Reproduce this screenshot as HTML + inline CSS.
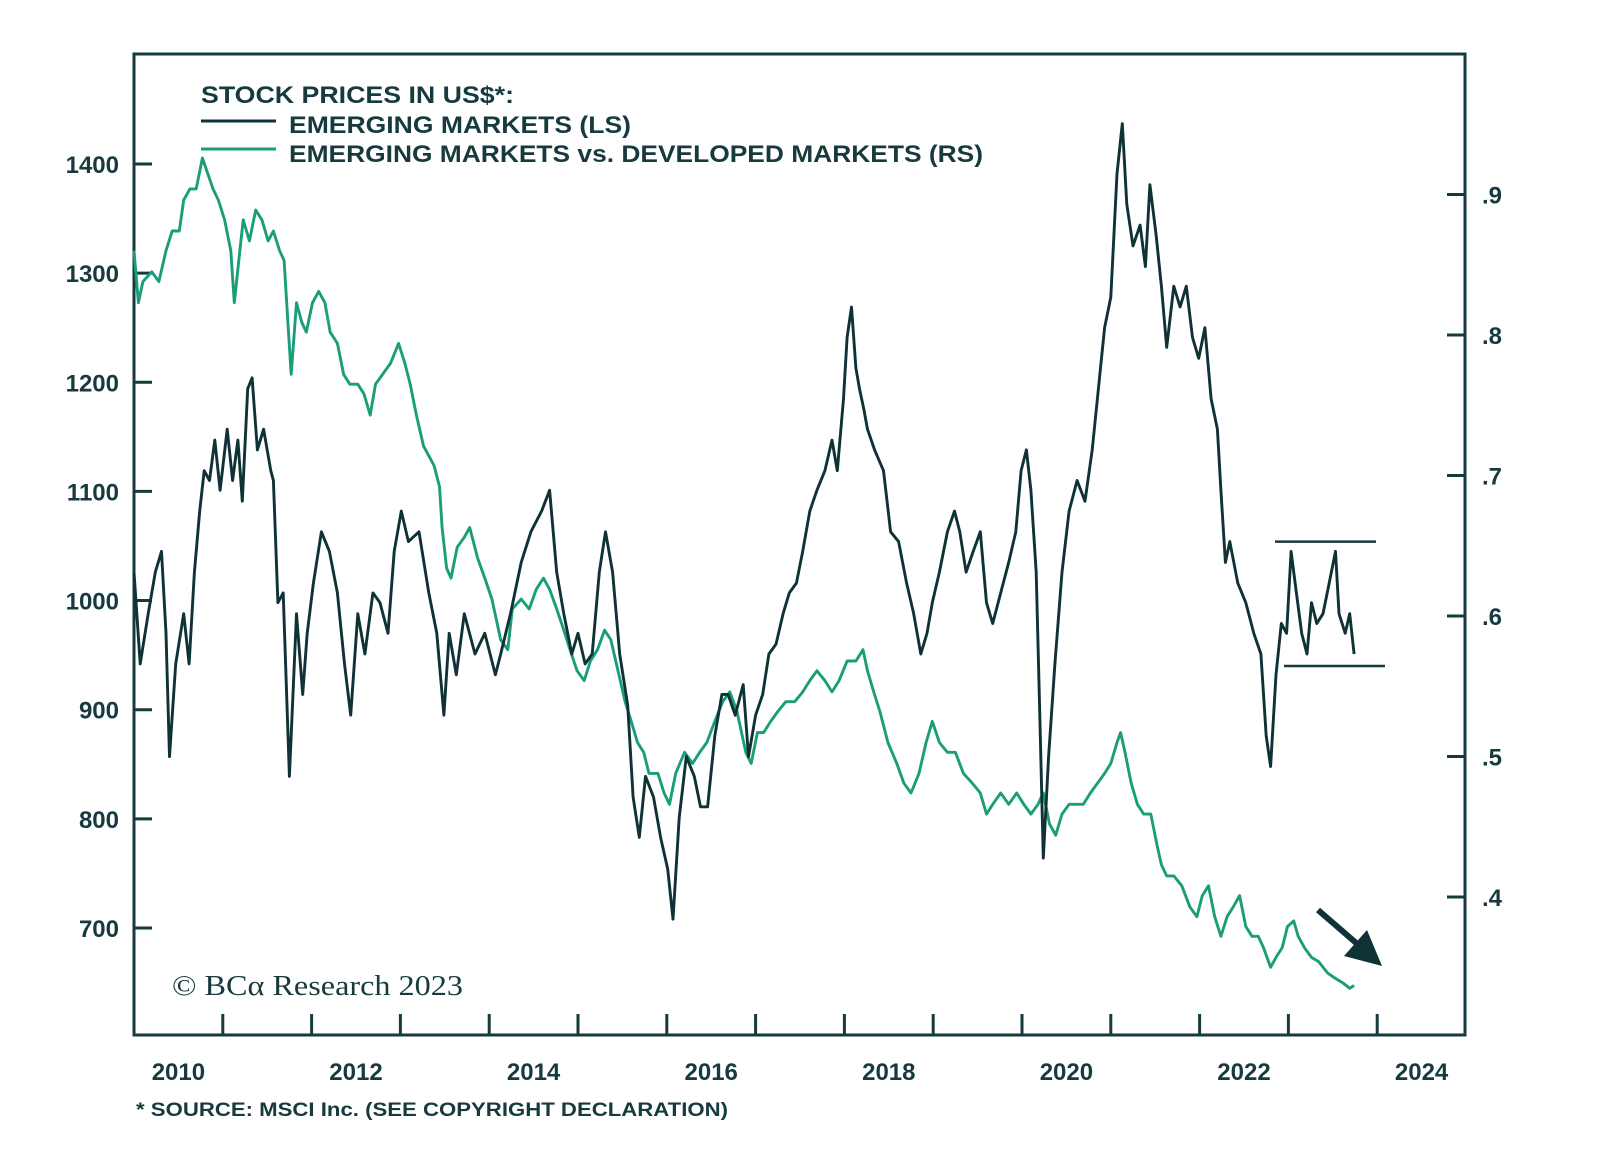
<!DOCTYPE html>
<html><head><meta charset="utf-8">
<style>
html,body{margin:0;padding:0;background:#fff;}
svg{display:block;}
text{font-family:"Liberation Sans",sans-serif;fill:#173a3e;}
</style></head>
<body>
<svg id="chart" width="1600" height="1154" viewBox="0 0 1600 1154" xmlns="http://www.w3.org/2000/svg">
  <rect x="134" y="54" width="1331" height="981" fill="none" stroke="#173a3e" stroke-width="3"/>
  <g id="axes"></g>
  <g id="series"></g>
  <g>
    <text x="201" y="103" font-size="24" font-weight="bold" textLength="313" lengthAdjust="spacingAndGlyphs">STOCK PRICES IN US$*:</text>
    <line x1="201" y1="121" x2="276" y2="121" stroke="#0f3236" stroke-width="3"/>
    <text x="289" y="133" font-size="24" font-weight="bold" textLength="342" lengthAdjust="spacingAndGlyphs">EMERGING MARKETS (LS)</text>
    <line x1="201" y1="149" x2="276" y2="149" stroke="#1a9e78" stroke-width="3"/>
    <text x="289" y="162" font-size="24" font-weight="bold" textLength="694" lengthAdjust="spacingAndGlyphs">EMERGING MARKETS vs. DEVELOPED MARKETS (RS)</text>
  </g>
  <text x="172" y="995" font-size="28" style="font-family:'Liberation Serif',serif" textLength="291" lengthAdjust="spacingAndGlyphs">© BCα Research 2023</text>
  <text x="136" y="1116" font-size="19" font-weight="bold" textLength="592" lengthAdjust="spacingAndGlyphs">* SOURCE: MSCI Inc. (SEE COPYRIGHT DECLARATION)</text>
  <g>
    <line x1="1318" y1="910" x2="1362" y2="948" stroke="#0f3236" stroke-width="6"/>
    <polygon points="1382,966 1344,956 1367,930" fill="#0f3236"/>
  </g>
</svg>
<script>
const years=[2010,2011,2012,2013,2014,2015,2016,2017,2018,2019,2020,2021,2022,2023,2024];
const xLabels=["2010","2012","2014","2016","2018","2020","2022","2024"];
const leftTicks=[700,800,900,1000,1100,1200,1300,1400];
const rightTicks=[0.4,0.5,0.6,0.7,0.8,0.9];
const rangeTop=1054, rangeBottom=940;
const emDates=[2010.00,2010.07,2010.16,2010.24,2010.31,2010.36,2010.40,2010.47,2010.56,2010.62,2010.68,2010.74,2010.79,2010.85,2010.91,2010.97,2011.05,2011.11,2011.17,2011.22,2011.28,2011.33,2011.39,2011.46,2011.54,2011.57,2011.62,2011.68,2011.75,2011.83,2011.90,2011.95,2012.02,2012.11,2012.20,2012.29,2012.37,2012.44,2012.52,2012.60,2012.69,2012.77,2012.86,2012.93,2013.01,2013.09,2013.21,2013.32,2013.41,2013.49,2013.55,2013.63,2013.72,2013.84,2013.95,2014.07,2014.13,2014.24,2014.36,2014.47,2014.59,2014.68,2014.76,2014.84,2014.93,2015.00,2015.08,2015.16,2015.24,2015.31,2015.39,2015.47,2015.56,2015.62,2015.69,2015.76,2015.85,2015.93,2016.01,2016.07,2016.14,2016.22,2016.31,2016.38,2016.46,2016.54,2016.62,2016.69,2016.77,2016.86,2016.92,2017.00,2017.08,2017.15,2017.23,2017.31,2017.38,2017.46,2017.53,2017.61,2017.69,2017.78,2017.86,2017.92,2017.99,2018.03,2018.08,2018.13,2018.17,2018.22,2018.26,2018.34,2018.44,2018.52,2018.61,2018.70,2018.78,2018.86,2018.93,2018.99,2019.07,2019.16,2019.24,2019.30,2019.37,2019.45,2019.53,2019.60,2019.67,2019.76,2019.85,2019.93,2019.99,2020.05,2020.10,2020.16,2020.20,2020.24,2020.30,2020.37,2020.45,2020.53,2020.62,2020.71,2020.79,2020.86,2020.93,2021.00,2021.07,2021.13,2021.18,2021.25,2021.33,2021.39,2021.44,2021.51,2021.57,2021.63,2021.71,2021.78,2021.85,2021.92,2021.99,2022.06,2022.13,2022.20,2022.24,2022.29,2022.34,2022.43,2022.52,2022.61,2022.69,2022.75,2022.80,2022.86,2022.92,2022.98,2023.03,2023.09,2023.15,2023.21,2023.26,2023.32,2023.39,2023.46,2023.53,2023.57,2023.64,2023.69,2023.74];
const emValues=[1026,942,988,1026,1045,970,857,942,988,942,1026,1082,1119,1110,1147,1101,1157,1110,1147,1091,1194,1204,1138,1157,1119,1110,998,1007,839,988,914,970,1016,1063,1045,1007,942,895,988,951,1007,998,970,1045,1082,1054,1063,1007,970,895,970,932,988,951,970,932,951,988,1035,1063,1082,1101,1026,988,951,970,942,951,1026,1063,1026,951,904,820,783,839,820,783,754,708,801,857,839,811,811,876,914,914,895,923,857,895,914,951,960,988,1007,1016,1045,1082,1101,1119,1147,1119,1185,1241,1269,1213,1194,1175,1157,1138,1119,1063,1054,1016,988,951,970,998,1026,1063,1082,1063,1026,1045,1063,998,979,1007,1035,1063,1119,1138,1101,1026,895,764,857,942,1026,1082,1110,1091,1138,1194,1250,1278,1391,1437,1363,1325,1344,1306,1381,1335,1288,1232,1288,1269,1288,1241,1222,1250,1185,1157,1101,1035,1054,1016,998,970,951,876,848,932,979,970,1045,1007,970,951,998,979,988,1016,1045,988,970,988,951];
const relDates=[2010.00,2010.05,2010.10,2010.20,2010.28,2010.36,2010.43,2010.51,2010.56,2010.63,2010.70,2010.77,2010.83,2010.89,2010.95,2011.02,2011.09,2011.13,2011.18,2011.23,2011.30,2011.37,2011.44,2011.51,2011.57,2011.64,2011.69,2011.74,2011.77,2011.83,2011.89,2011.94,2012.01,2012.08,2012.15,2012.21,2012.29,2012.36,2012.43,2012.52,2012.59,2012.66,2012.72,2012.80,2012.89,2012.98,2013.05,2013.11,2013.18,2013.26,2013.32,2013.38,2013.44,2013.47,2013.52,2013.57,2013.64,2013.72,2013.78,2013.87,2013.95,2014.03,2014.13,2014.21,2014.26,2014.36,2014.45,2014.53,2014.61,2014.68,2014.76,2014.84,2014.91,2014.99,2015.07,2015.14,2015.22,2015.30,2015.37,2015.45,2015.53,2015.60,2015.67,2015.74,2015.80,2015.90,2015.97,2016.03,2016.10,2016.20,2016.29,2016.37,2016.45,2016.54,2016.63,2016.71,2016.79,2016.89,2016.95,2017.02,2017.09,2017.17,2017.25,2017.34,2017.44,2017.53,2017.61,2017.69,2017.78,2017.86,2017.94,2018.03,2018.13,2018.21,2018.26,2018.33,2018.40,2018.49,2018.59,2018.67,2018.75,2018.84,2018.92,2018.99,2019.07,2019.16,2019.25,2019.34,2019.44,2019.53,2019.60,2019.67,2019.76,2019.85,2019.94,2020.02,2020.10,2020.18,2020.24,2020.31,2020.38,2020.45,2020.53,2020.61,2020.69,2020.77,2020.85,2020.93,2021.00,2021.07,2021.11,2021.16,2021.23,2021.30,2021.37,2021.45,2021.52,2021.57,2021.63,2021.71,2021.80,2021.89,2021.97,2022.03,2022.10,2022.17,2022.24,2022.31,2022.38,2022.45,2022.52,2022.59,2022.66,2022.72,2022.80,2022.86,2022.93,2022.99,2023.06,2023.11,2023.18,2023.26,2023.34,2023.44,2023.53,2023.61,2023.69,2023.74];
const relValues=[.860,.823,.838,.845,.838,.860,.874,.874,.896,.904,.904,.926,.915,.904,.896,.882,.860,.823,.853,.882,.867,.889,.882,.867,.874,.860,.853,.802,.772,.823,.809,.802,.823,.831,.823,.802,.794,.772,.765,.765,.758,.743,.765,.772,.780,.794,.780,.765,.743,.721,.714,.707,.692,.663,.634,.627,.649,.656,.663,.641,.627,.612,.583,.576,.605,.612,.605,.619,.627,.619,.605,.590,.576,.561,.554,.568,.576,.590,.583,.561,.539,.525,.510,.503,.488,.488,.474,.466,.488,.503,.495,.503,.510,.525,.539,.546,.532,.503,.495,.517,.517,.525,.532,.539,.539,.546,.554,.561,.554,.546,.554,.568,.568,.576,.561,.546,.532,.510,.495,.481,.474,.488,.510,.525,.510,.503,.503,.488,.481,.474,.459,.466,.474,.466,.474,.466,.459,.466,.474,.452,.444,.459,.466,.466,.466,.474,.481,.488,.495,.510,.517,.503,.481,.466,.459,.459,.437,.423,.415,.415,.408,.393,.386,.401,.408,.386,.372,.386,.393,.401,.379,.372,.372,.364,.350,.357,.364,.379,.383,.372,.364,.357,.354,.346,.342,.339,.335,.337];

const NS="http://www.w3.org/2000/svg";
const X0=134, YEARW=88.8;
function xScale(t){return X0+(t-2010)*YEARW;}
function yLeft(v){return 164+(1400-v)*1.0914;}
function yRight(v){return 897-(v-0.4)*1405;}
function mk(tag,attrs,parent){const e=document.createElementNS(NS,tag);for(const k in attrs)e.setAttribute(k,attrs[k]);parent.appendChild(e);return e;}
const axes=document.getElementById('axes');
const series=document.getElementById('series');

years.forEach(y=>{if(y===2010)return;const x=xScale(y);
  const t=mk('line',{x1:x,y1:1035,x2:x,y2:1014,stroke:'#173a3e','stroke-width':3},axes);
  
  });
xLabels.forEach(l=>{const x=xScale(+l+0.5);
  const t=mk('text',{x:x,y:1080,'text-anchor':'middle','font-size':24,'font-weight':'bold'},axes);t.textContent=l;
  
  });
leftTicks.forEach(v=>{const y=yLeft(v);
  const l=mk('line',{x1:134,y1:y,x2:152,y2:y,stroke:'#173a3e','stroke-width':3},axes);
  
  
  const t=mk('text',{x:119,y:y+9,'text-anchor':'end','font-size':24,'font-weight':'bold'},axes);t.textContent=v;
  
  });
rightTicks.forEach(v=>{const y=yRight(v);
  const l=mk('line',{x1:1447,y1:y,x2:1465,y2:y,stroke:'#173a3e','stroke-width':3},axes);
  
  
  const t=mk('text',{x:1482,y:y+9,'font-size':24,'font-weight':'bold'},axes);t.textContent='.'+Math.round(v*10);
  
  });

const relPts=relDates.map((d,i)=>xScale(d).toFixed(1)+','+yRight(relValues[i]).toFixed(1)).join(' ');
const g=mk('polyline',{points:relPts,fill:'none',stroke:'#1a9e78','stroke-width':2.9,'stroke-linejoin':'round'},series);


const emPts=emDates.map((d,i)=>xScale(d).toFixed(1)+','+yLeft(emValues[i]).toFixed(1)).join(' ');
const e=mk('polyline',{points:emPts,fill:'none',stroke:'#0f3236','stroke-width':2.9,'stroke-linejoin':'round'},series);


const r1=mk('line',{x1:1275,y1:yLeft(rangeTop),x2:1376,y2:yLeft(rangeTop),stroke:'#173a3e','stroke-width':2.5},series);


const r2=mk('line',{x1:1284,y1:yLeft(rangeBottom),x2:1385,y2:yLeft(rangeBottom),stroke:'#173a3e','stroke-width':2.5},series);


</script>
</body></html>
